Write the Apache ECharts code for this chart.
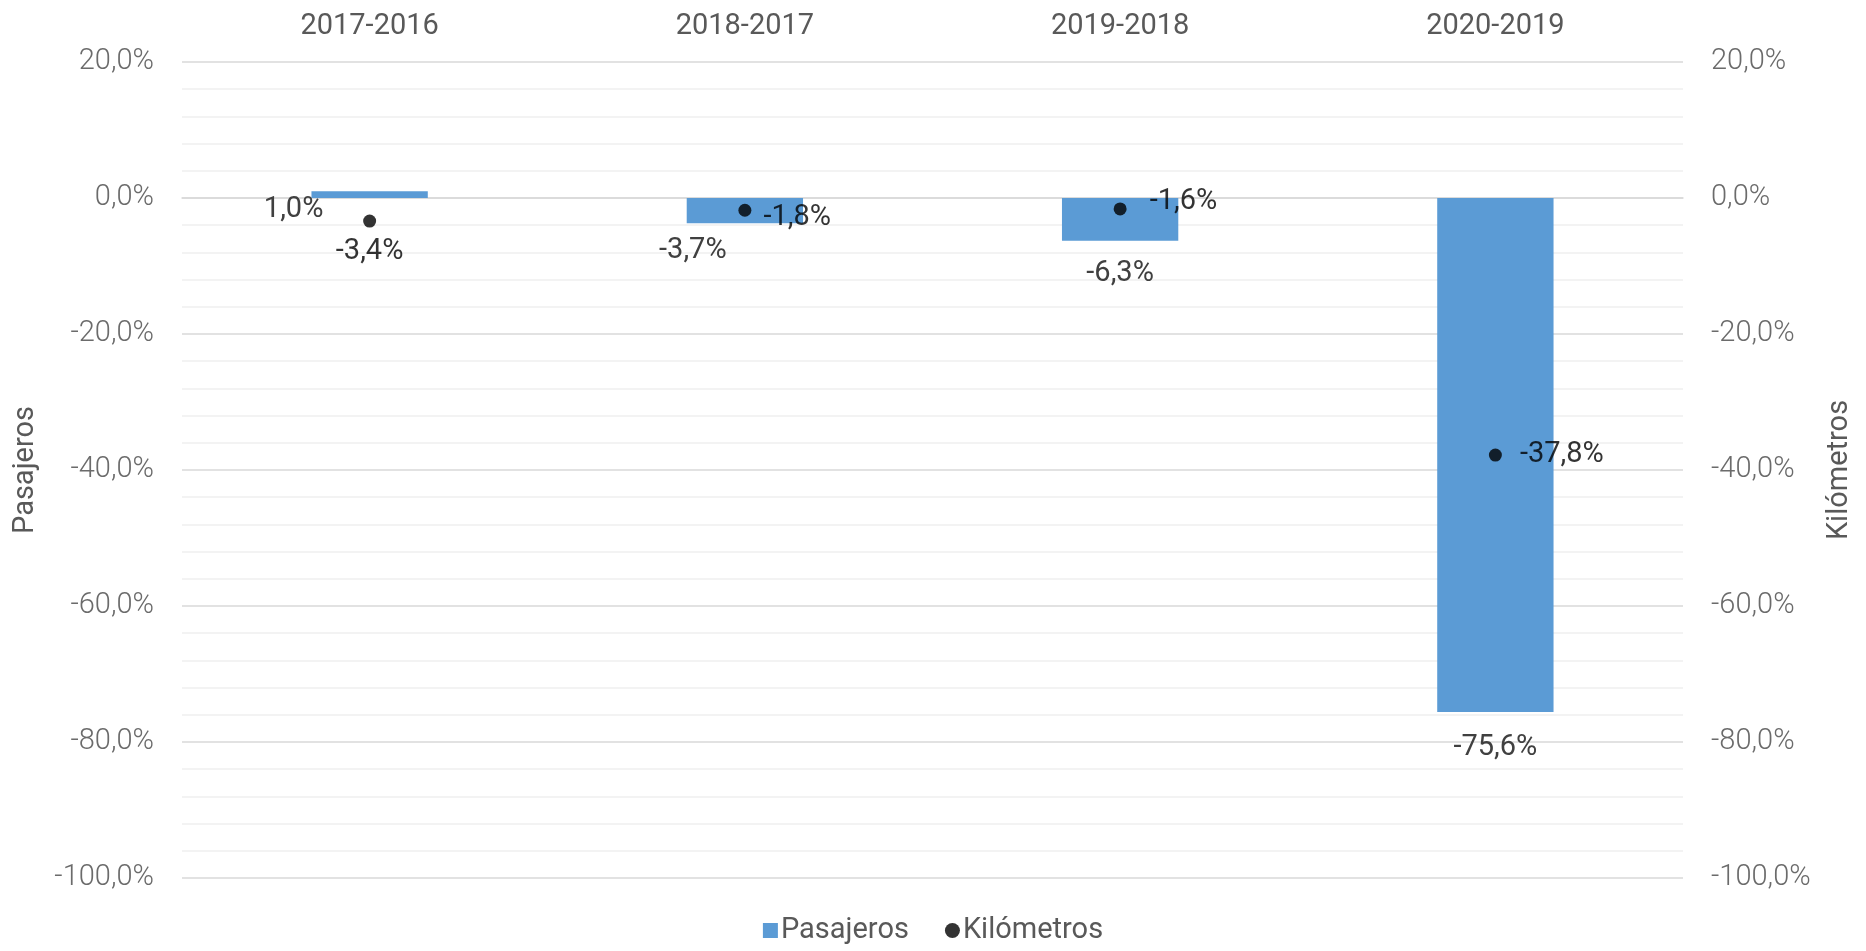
<!DOCTYPE html>
<html lang="es">

<head>
    <meta charset="UTF-8" />
    <title>Pasajeros y Kilómetros</title>
    <script src="https://cdn.jsdelivr.net/npm/echarts@6.0.0/dist/echarts.min.js"></script>
    <style>
        html, body { margin: 0; padding: 0; background: #fff; }
    </style>
</head>

<body>
    <div id="main" style="width: 1866px; height: 951px;"></div>

    <script>
        const categories = ['2017-2016', '2018-2017', '2019-2018', '2020-2019'];
        const pasajeros = [1.0, -3.7, -6.3, -75.6];
        const kilometros = [-3.4, -1.8, -1.6, -37.8];

        const fmt = v => v.toFixed(1).replace('.', ',') + '%';
        const font = 'Roboto';
        const fs = 29;

        // label nudges to mimic the hand-placed labels of the original
        const barLabels = [
            { position: 'inside', offset: [-76, 15] },
            { position: 'outside', offset: [-52, -4] },
            { position: 'outside', offset: [0, 1] },
            { position: 'outside', offset: [0, 4] }
        ];
        const dotLabels = [
            { position: 'bottom', offset: [0, 5] },
            { position: 'right', offset: [7, 8] },
            { position: 'right', offset: [18, -7] },
            { position: 'right', offset: [13, 0] }
        ];

        const myChart = echarts.init(document.getElementById('main'));

        const valueAxis = (name, show) => ({
            type: 'value',
            min: -100,
            max: 20,
            interval: 20,
            name: name,
            nameLocation: 'middle',
            nameRotate: 90,
            nameGap: 142,
            nameTextStyle: { fontFamily: font, fontSize: fs, color: '#595959' },
            axisLine: { show: false },
            axisTick: { show: false },
            axisLabel: {
                formatter: fmt,
                fontFamily: font,
                fontSize: fs,
                fontWeight: 300,
                color: '#6b6b6b',
                margin: 28
            },
            splitLine: { show: show, lineStyle: { color: '#d9d9d9', width: 1.5 } },
            minorTick: { show: false, splitNumber: 5 },
            minorSplitLine: { show: show, lineStyle: { color: '#f0f0f0', width: 1.5 } }
        });

        myChart.setOption({
            animation: false,
            grid: { left: 182, right: 183, top: 62, bottom: 73 },
            legend: {
                bottom: 1,
                left: 'center',
                itemWidth: 15,
                itemHeight: 15,
                itemGap: 36,
                textStyle: { fontFamily: font, fontSize: fs, color: '#595959', padding: [0, 0, 0, -2] },
                data: [
                    { name: 'Pasajeros', icon: 'rect' },
                    { name: 'Kilómetros', icon: 'circle' }
                ]
            },
            xAxis: [{
                type: 'category',
                position: 'top',
                data: categories,
                axisLine: { show: false },
                axisTick: { show: false },
                axisLabel: { fontFamily: font, fontSize: fs, color: '#595959', margin: 21 }
            }, {
                type: 'category',
                position: 'top',
                data: categories,
                axisLine: { onZero: true, lineStyle: { color: '#d9d9d9', width: 1.5 } },
                axisTick: { inside: true, length: 9, lineStyle: { color: '#d9d9d9', width: 1.5 } },
                axisLabel: { show: false }
            }],
            yAxis: [valueAxis('Pasajeros', true), valueAxis('Kilómetros', false)],
            series: [{
                name: 'Pasajeros',
                type: 'bar',
                xAxisIndex: 0,
                yAxisIndex: 0,
                barWidth: '31%',
                itemStyle: { color: '#5b9bd5' },
                label: {
                    show: true,
                    formatter: p => fmt(p.value),
                    fontFamily: font,
                    fontSize: fs,
                    color: '#404040',
                    distance: 17
                },
                data: pasajeros.map((v, i) => ({ value: v, label: barLabels[i] }))
            }, {
                name: 'Kilómetros',
                type: 'scatter',
                xAxisIndex: 0,
                yAxisIndex: 1,
                symbol: 'circle',
                symbolSize: 13,
                itemStyle: { color: '#000' },
                label: {
                    show: true,
                    formatter: p => fmt(p.value),
                    fontFamily: font,
                    fontSize: fs,
                    color: '#000'
                },
                data: kilometros.map((v, i) => ({ value: v, label: dotLabels[i] }))
            }]
        });
    </script>
</body>

</html>
